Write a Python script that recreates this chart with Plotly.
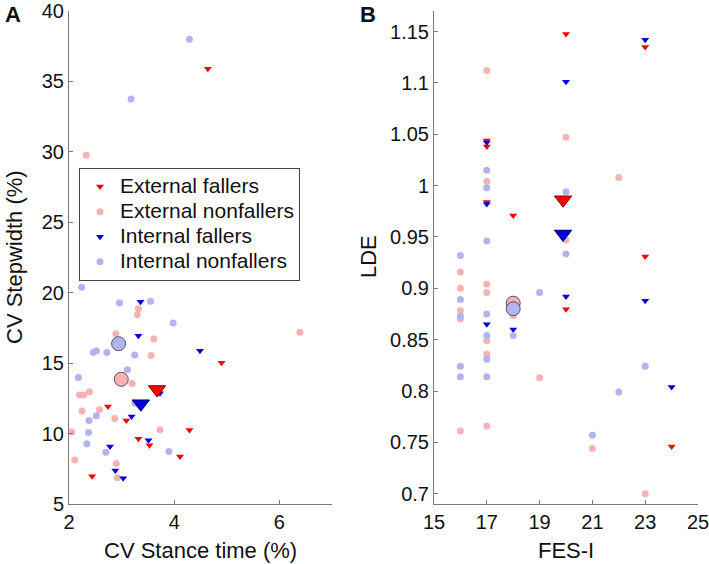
import numpy as np
import plotly.graph_objects as go

# Panel A: CV stance time (%) vs CV stepwidth (%)
a_ext_fall_x = [4.64, 2.74, 3.09, 4.90, 4.29, 3.32, 3.53, 4.11, 2.44]
a_ext_fall_y = [35.9, 11.92, 10.92, 15.03, 10.26, 9.64, 9.17, 8.37, 6.97]
a_ext_non_x = [2.33, 2.89, 3.32, 3.30, 3.61, 3.56, 6.39, 3.20, 2.39, 2.20,
               2.28, 2.25, 2.58, 2.87, 2.05, 3.73, 2.11, 2.90, 2.92]
a_ext_non_y = [29.76, 17.09, 18.87, 18.44, 16.71, 15.55, 17.19, 13.56, 12.97, 12.73,
               12.73, 11.61, 11.69, 11.07, 10.12, 10.28, 8.13, 7.87, 6.87]
a_int_fall_x = [3.36, 3.32, 4.49, 3.73, 3.19, 2.78, 3.51, 2.88, 3.03]
a_int_fall_y = [19.35, 16.95, 15.88, 12.87, 11.21, 9.08, 9.53, 7.37, 6.83]
a_int_non_x = [4.29, 3.18, 2.24, 2.96, 3.55, 3.98, 2.46, 2.52, 2.72, 3.25,
               3.11, 2.18, 3.25, 2.52, 2.38, 2.37, 2.34, 2.70, 3.90]
a_int_non_y = [38.0, 33.76, 20.38, 19.27, 19.39, 17.85, 15.76, 15.88, 15.76, 15.58,
               14.53, 13.98, 12.16, 11.26, 10.93, 10.07, 9.27, 8.68, 8.72]

# Panel B: FES-I vs LDE
b_ext_fall_x = [20, 23, 17, 17, 17, 18, 23, 20, 24]
b_ext_fall_y = [1.1475, 1.135, 1.044, 1.038, 0.984, 0.971, 0.931, 0.8795, 0.746]
b_ext_non_x = [17, 20, 17, 22, 20, 16, 16, 17, 17, 16, 16, 18, 17, 17, 19, 17, 16, 21, 23]
b_ext_non_y = [1.112, 1.047, 1.004, 1.008, 0.947, 0.916, 0.900, 0.904, 0.896, 0.8785,
               0.870, 0.8735, 0.849, 0.836, 0.813, 0.766, 0.761, 0.744, 0.700]
b_int_fall_x = [23, 20, 17, 17, 20, 23, 17, 18, 24]
b_int_fall_y = [1.142, 1.101, 1.042, 0.982, 0.892, 0.888, 0.865, 0.860, 0.804]
b_int_non_x = [17, 17, 20, 17, 20, 16, 19, 16, 16, 17, 17, 18, 17, 16, 23, 16, 17, 22, 21]
b_int_non_y = [1.015, 0.998, 0.994, 0.946, 0.9335, 0.932, 0.896, 0.889, 0.873, 0.875,
               0.854, 0.854, 0.831, 0.824, 0.824, 0.814, 0.814, 0.799, 0.757]

group_names = ["External fallers", "External nonfallers", "Internal fallers", "Internal nonfallers"]

a_xticks = [2, 4, 6]
a_yticks = [5, 10, 15, 20, 25, 30, 35, 40]
b_xticks = [15, 17, 19, 21, 23, 25]
b_yticks = [0.7, 0.75, 0.8, 0.85, 0.9, 0.95, 1.0, 1.05, 1.1, 1.15]
b_ytick_labels = ["0.7", "0.75", "0.8", "0.85", "0.9", "0.95", "1", "1.05", "1.1", "1.15"]

FONT = "Liberation Sans, Arial, Helvetica, sans-serif"
W, H = 709, 564


def px(v):
    return v / W


def py(v):
    return 1 - v / H


styles = [
    {"symbol": "triangle-down", "color": "#ff0000", "edge": "#8a0000"},
    {"symbol": "circle", "color": "#f7b3b3", "edge": "#555555"},
    {"symbol": "triangle-down", "color": "#0000e0", "edge": "#000060"},
    {"symbol": "circle", "color": "#b3b3f2", "edge": "#555555"},
]

panels = [
    ("x", "y", [(a_ext_fall_x, a_ext_fall_y), (a_ext_non_x, a_ext_non_y),
                (a_int_fall_x, a_int_fall_y), (a_int_non_x, a_int_non_y)]),
    ("x2", "y2", [(b_ext_fall_x, b_ext_fall_y), (b_ext_non_x, b_ext_non_y),
                  (b_int_fall_x, b_int_fall_y), (b_int_non_x, b_int_non_y)]),
]

fig = go.Figure()

for xa, ya, groups in panels:
    for i, (gx, gy) in enumerate(groups):
        st = styles[i]
        fig.add_trace(
            go.Scatter(
                x=gx, y=gy, mode="markers", xaxis=xa, yaxis=ya,
                # bigger text in the legend while the row height follows legend font size
                name=f'<span style="font-size:21px">{group_names[i]}</span>',
                showlegend=(xa == "x"),
                marker={"symbol": st["symbol"], "color": st["color"], "size": 7,
                        "line": {"width": 0}},
            )
        )
    # group means, drawn larger on top
    for i, (gx, gy) in enumerate(groups):
        st = styles[i]
        fig.add_trace(
            go.Scatter(
                x=[np.mean(gx)], y=[np.mean(gy)], mode="markers", xaxis=xa, yaxis=ya,
                showlegend=False, hoverinfo="skip",
                marker={"symbol": st["symbol"], "color": st["color"],
                        "size": 14 if st["symbol"] == "circle" else 15,
                        "line": {"width": 1, "color": st["edge"]}},
            )
        )

axis_common = dict(
    showgrid=False, zeroline=False, showline=True, linecolor="#7a7a7a", linewidth=1,
    ticks="inside", ticklen=4, tickcolor="#7a7a7a", mirror=False, automargin=False,
    ticklabeloverflow="allow",
    tickfont={"family": FONT, "size": 20, "color": "#111111"},
)

fig.update_layout(
    width=W, height=H,
    margin={"l": 0, "r": 0, "t": 0, "b": 0},
    plot_bgcolor="white", paper_bgcolor="white",
    font={"family": FONT, "color": "#111111"},
    xaxis=dict(axis_common, domain=[px(69), px(332)], range=[2, 7],
               tickvals=a_xticks, anchor="y"),
    yaxis=dict(axis_common, domain=[py(504), py(11)], range=[5, 40],
               tickvals=a_yticks, anchor="x"),
    xaxis2=dict(axis_common, domain=[px(434), px(698)], range=[15, 25],
                tickvals=b_xticks, anchor="y2"),
    yaxis2=dict(axis_common, domain=[py(504), py(11)], range=[0.69, 1.17],
                tickvals=b_yticks, ticktext=b_ytick_labels, anchor="x2"),
    legend={
        "x": px(79), "y": py(168), "xanchor": "left", "yanchor": "top",
        "bordercolor": "#444444", "borderwidth": 1, "bgcolor": "white",
        "font": {"family": FONT, "size": 17, "color": "#111111"},
        "tracegroupgap": 0,
    },
    showlegend=True,
)

annotations = [
    ("A", 13, 15, 0, True),
    ("B", 368, 15, 0, True),
    ("CV Stepwidth (%)", 14, 257, -90, False),
    ("LDE", 368, 257, -90, False),
    ("CV Stance time (%)", 200, 550, 0, False),
    ("FES-I", 566, 550, 0, False),
]
for text, x0, y0, ang, bold in annotations:
    fig.add_annotation(
        text=f"<b>{text}</b>" if bold else text,
        x=px(x0), y=py(y0), xref="paper", yref="paper",
        showarrow=False, textangle=ang, xanchor="center", yanchor="middle",
        font={"family": FONT, "size": 22, "color": "#111111"},
    )

# drop the default 8px page margin so the figure fills the window exactly
fig.write_html(
    "out.html",
    config={"displayModeBar": False},
    post_script="document.body.style.margin = '0';",
)
